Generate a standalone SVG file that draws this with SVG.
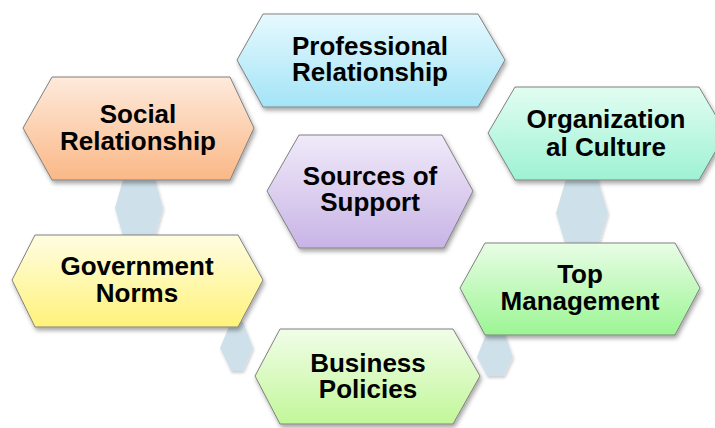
<svg xmlns="http://www.w3.org/2000/svg" width="715" height="428" viewBox="0 0 715 428">
<defs>
<filter id="sh" x="-20%" y="-20%" width="140%" height="150%">
<feDropShadow dx="1.5" dy="3" stdDeviation="2" flood-color="#000" flood-opacity="0.35"/>
</filter>
<filter id="sh2" x="-30%" y="-30%" width="160%" height="160%">
<feDropShadow dx="1" dy="2" stdDeviation="1.5" flood-color="#000" flood-opacity="0.2"/>
</filter>
<linearGradient id="gProf" x1="0" y1="0" x2="0" y2="1"><stop offset="0" stop-color="#e6f9fe"/><stop offset="1" stop-color="#a3e4f7"/></linearGradient>
<linearGradient id="gSoc" x1="0" y1="0" x2="0" y2="1"><stop offset="0" stop-color="#feeadc"/><stop offset="1" stop-color="#fab886"/></linearGradient>
<linearGradient id="gOrg" x1="0" y1="0" x2="0" y2="1"><stop offset="0" stop-color="#e2fdf2"/><stop offset="1" stop-color="#9ef2d3"/></linearGradient>
<linearGradient id="gSrc" x1="0" y1="0" x2="0" y2="1"><stop offset="0" stop-color="#f0eaf9"/><stop offset="1" stop-color="#c8b4e6"/></linearGradient>
<linearGradient id="gGov" x1="0" y1="0" x2="0" y2="1"><stop offset="0" stop-color="#fffde2"/><stop offset="1" stop-color="#fff27a"/></linearGradient>
<linearGradient id="gTop" x1="0" y1="0" x2="0" y2="1"><stop offset="0" stop-color="#e8fde5"/><stop offset="1" stop-color="#9cf594"/></linearGradient>
<linearGradient id="gBus" x1="0" y1="0" x2="0" y2="1"><stop offset="0" stop-color="#f1fde8"/><stop offset="1" stop-color="#c2f799"/></linearGradient>
</defs>
<style>
.hex{stroke:#808080;stroke-width:1;filter:url(#sh)}
.con{fill:#cee0e9;stroke:none;filter:url(#sh2)}
.t{font-family:"Liberation Sans",Arial,sans-serif;font-weight:bold;font-size:26px;fill:#000;text-anchor:middle}
</style>
<g id="connectors">
<polygon class="con" points="115,208 124,176 154,176 163,208 154,240 124,240"/>
<polygon class="con" points="556,213 567,176 597,176 608,213 597,250 567,250"/>
<polygon class="con" points="220,348 231,322 243,322 253,348 243,371 231,371"/>
<polygon class="con" points="477,357 487,332 504,332 513,357 504,376 487,376"/>
</g>
<g id="professional">
<polygon class="hex" fill="url(#gProf)" points="237,60 263,14 478,14 505,60 478,107 263,107"/>
<text class="t" x="370" y="55">Professional</text>
<text class="t" x="370" y="81">Relationship</text>
</g>
<g id="social">
<polygon class="hex" fill="url(#gSoc)" points="23,128 52,77 230,77 254,128 230,180 52,180"/>
<text class="t" x="138" y="123">Social</text>
<text class="t" x="138" y="150">Relationship</text>
</g>
<g id="organizational">
<polygon class="hex" fill="url(#gOrg)" points="488,133 515,87 699,87 726,133 699,180 515,180"/>
<text class="t" x="606" y="128">Organization</text>
<text class="t" x="606" y="156">al Culture</text>
</g>
<g id="sources">
<polygon class="hex" fill="url(#gSrc)" points="267,191 299,135 442,135 473,191 444,248 299,248"/>
<text class="t" x="370" y="185">Sources of</text>
<text class="t" x="370" y="211">Support</text>
</g>
<g id="government">
<polygon class="hex" fill="url(#gGov)" points="12,280 35,235 238,235 263,280 238,327 35,327"/>
<text class="t" x="137" y="275">Government</text>
<text class="t" x="137" y="302">Norms</text>
</g>
<g id="top">
<polygon class="hex" fill="url(#gTop)" points="460,288 485,243 675,243 700,288 675,335 485,335"/>
<text class="t" x="580" y="283">Top</text>
<text class="t" x="580" y="310">Management</text>
</g>
<g id="business">
<polygon class="hex" fill="url(#gBus)" points="255,376 280,329 453,329 480,376 453,424 280,424"/>
<text class="t" x="368" y="372">Business</text>
<text class="t" x="368" y="398">Policies</text>
</g>
</svg>
